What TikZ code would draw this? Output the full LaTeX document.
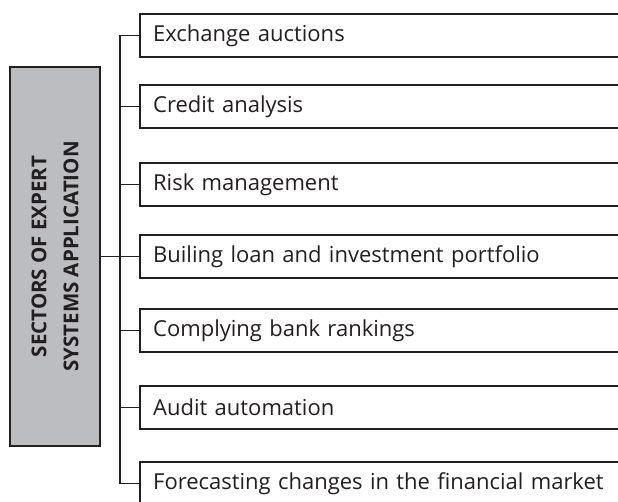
\documentclass[tikz,border=0pt]{standalone}
\usepackage{fontspec}
\setmainfont{Open Sans}
\usetikzlibrary{calc}
\definecolor{boxgray}{RGB}{188,189,192}
\definecolor{ink}{RGB}{35,31,32}
\tikzset{
  item/.style={draw=ink, line width=2.3pt, rectangle, anchor=west, minimum height=43pt,
    text width=480pt, inner xsep=13pt, align=left, font=\fontsize{22}{24}\selectfont, text=ink},
  head/.style={draw=ink, line width=2.3pt, fill=boxgray, rectangle, rotate=90,
    minimum width=379pt, minimum height=90pt, align=center,
    font=\bfseries\fontsize{20.5}{32}\selectfont, text=ink},
  conn/.style={draw=ink, line width=1.2pt}
}
\begin{document}
\begin{tikzpicture}[x=1pt,y=-1pt]
\useasboundingbox (0,0) rectangle (618,501);
\clip (0,0) rectangle (618,501);
\fill[white] (0,0) rectangle (618,501);
\node[item] (b1) at (139,35.5) {Exchange auctions};
\node[item] (b2) at (139,106.5) {Credit analysis};
\node[item] (b3) at (139,184.5) {Risk management};
\node[item] (b4) at (139,256.5) {Builing loan and investment portfolio};
\node[item] (b5) at (139,330.5) {Complying bank rankings};
\node[item] (b6) at (139,407.5) {Audit automation};
\node[item] (b7) at (139,483.5) {Forecasting changes in the financial market};
\node[head] (h) at (55,256.5) {SECTORS OF EXPERT\\SYSTEMS APPLICATION};
\draw[conn] (b1.west) -- ++(-19,0) |- (b7.west);
\foreach \i in {2,...,6} { \draw[conn] (b\i.west) -- ++(-19,0); }
\draw[conn] (h.south) -- (b4.west);
\end{tikzpicture}
\end{document}
